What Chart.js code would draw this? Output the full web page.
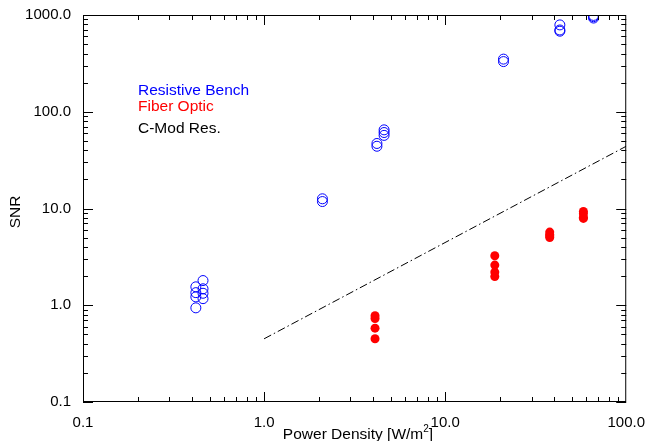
<!DOCTYPE html>
<html>
<head>
<meta charset="utf-8">
<script src="https://cdn.jsdelivr.net/npm/chart.js@4/dist/chart.umd.min.js"></script>
<style>
  body { margin: 0; background: #fff; }
  #grafico { display: block; }
</style>
</head>
<body>
<canvas id="grafico" width="649" height="441"></canvas>
<script>
// dados
const benchX = [0.42, 0.42, 0.42, 0.42, 0.46, 0.46, 0.46, 0.46, 2.1, 2.1, 4.2, 4.2, 4.6, 4.6, 4.6, 21, 21, 43, 43, 43, 66, 66, 66];
const benchY = [1.55, 1.35, 1.22, 0.94, 1.8, 1.48, 1.33, 1.17, 12.6, 11.8, 47, 44, 65, 61, 57, 350, 330, 790, 700, 680, 990, 960, 930];

const fiberX = [4.1, 4.1, 4.1, 4.1, 18.8, 18.8, 18.8, 18.8, 37.8, 37.8, 37.8, 37.8, 58, 58, 58, 58];
const fiberY = [0.78, 0.73, 0.58, 0.45, 3.25, 2.6, 2.2, 1.98, 5.7, 5.4, 5.2, 5.0, 9.3, 8.8, 8.1, 7.9];

const cmodX = [1, 100];
const cmodY = [0.45, 44];

const xTickValues = [0.1, 1, 10, 100];
const xTickLabels = ["0.1", "1.0", "10.0", "100.0"];
const yTickValues = [0.1, 1, 10, 100, 1000];
const yTickLabels = ["0.1", "1.0", "10.0", "100.0", "1000.0"];

const legendText = ["Resistive Bench", "Fiber Optic", "C-Mod Res."];
const legendColors = ["#0000ff", "#ff0000", "#000000"];
const legendRows = [91, 107, 129];

const fonte = "Liberation Sans, Arial, sans-serif";

function pares(xs, ys) {
  return xs.map((x, i) => ({ x: x, y: ys[i] }));
}

// moldura, ticks internos, legenda e titulos
const decoracao = {
  id: "decoracao",
  afterDraw(chart) {
    const ctx = chart.ctx;
    const a = chart.chartArea;
    const sx = chart.scales.x;
    const sy = chart.scales.y;
    ctx.save();
    ctx.strokeStyle = "#000";
    ctx.lineWidth = 1;
    ctx.strokeRect(a.left + 0.5, a.top + 0.5, a.right - a.left - 1, a.bottom - a.top - 1);

    ctx.beginPath();
    // ticks eixo x (baixo e cima)
    for (let d = -1; d < 2; d++) {
      for (let m = 1; m < 10; m++) {
        const v = m * Math.pow(10, d);
        const px = Math.round(sx.getPixelForValue(v)) + 0.5;
        const len = m === 1 ? 10 : 5;
        ctx.moveTo(px, a.bottom);
        ctx.lineTo(px, a.bottom - len);
        ctx.moveTo(px, a.top);
        ctx.lineTo(px, a.top + len);
      }
    }
    // ticks eixo y (esquerda e direita)
    for (let d = -1; d < 3; d++) {
      for (let m = 1; m < 10; m++) {
        const v = m * Math.pow(10, d);
        const py = Math.round(sy.getPixelForValue(v)) + 0.5;
        const len = m === 1 ? 10 : 5;
        ctx.moveTo(a.left, py);
        ctx.lineTo(a.left + len, py);
        ctx.moveTo(a.right, py);
        ctx.lineTo(a.right - len, py);
      }
    }
    ctx.stroke();

    // legenda so com texto
    ctx.font = "15.5px " + fonte;
    ctx.textAlign = "left";
    ctx.textBaseline = "middle";
    legendText.forEach((t, i) => {
      ctx.fillStyle = legendColors[i];
      ctx.fillText(t, 138, legendRows[i]);
    });

    // titulo x com expoente pequeno
    ctx.fillStyle = "#000";
    const t1 = "Power Density [W/m";
    const w1 = ctx.measureText(t1).width;
    ctx.font = "10px " + fonte;
    const w2 = ctx.measureText("2").width;
    ctx.font = "15.5px " + fonte;
    const w3 = ctx.measureText("]").width;
    let x0 = 358 - (w1 + w2 + w3) / 2;
    ctx.fillText(t1, x0, 435);
    ctx.font = "10px " + fonte;
    ctx.fillText("2", x0 + w1, 429);
    ctx.font = "15.5px " + fonte;
    ctx.fillText("]", x0 + w1 + w2, 435);

    // titulo y
    ctx.textAlign = "center";
    ctx.translate(16, 212);
    ctx.rotate(-Math.PI / 2);
    ctx.fillText("SNR", 0, 0);
    ctx.restore();
  },
};

const data1 = {
  datasets: [
    {
      label: "Resistive Bench",
      data: pares(benchX, benchY),
      showLine: false,
      pointStyle: "circle",
      pointRadius: 5,
      pointBorderWidth: 1,
      borderColor: "#0000ff",
      backgroundColor: "rgba(0,0,0,0)",
    },
    {
      label: "Fiber Optic",
      data: pares(fiberX, fiberY),
      showLine: false,
      pointRadius: 4.5,
      pointBorderWidth: 0,
      borderColor: "#ff0000",
      backgroundColor: "#ff0000",
    },
    {
      label: "C-Mod Res.",
      data: pares(cmodX, cmodY),
      showLine: true,
      pointRadius: 0,
      borderColor: "#000",
      borderWidth: 1,
      borderDash: [8, 3, 1.5, 3],
    },
  ],
};

const options1 = {
  responsive: false,
  animation: false,
  layout: { padding: { top: 15, right: 20, left: 0, bottom: 0 } },
  plugins: { legend: { display: false }, tooltip: { enabled: false } },
  scales: {
    x: {
      type: "logarithmic",
      min: 0.1,
      max: 100,
      grid: { display: false },
      border: { display: false },
      afterBuildTicks: (s) => { s.ticks = xTickValues.map((v) => ({ value: v })); },
      afterFit: (s) => { s.height = 39; },
      ticks: {
        autoSkip: false,
        maxRotation: 0,
        padding: 4,
        color: "#000",
        font: { family: fonte, size: 15 },
        callback: (v, i) => xTickLabels[i],
      },
    },
    y: {
      type: "logarithmic",
      min: 0.1,
      max: 1000,
      grid: { display: false },
      border: { display: false },
      afterBuildTicks: (s) => { s.ticks = yTickValues.map((v) => ({ value: v })); },
      afterFit: (s) => { s.width = 83; },
      ticks: {
        autoSkip: false,
        padding: 4,
        color: "#000",
        font: { family: fonte, size: 15 },
        callback: (v, i) => yTickLabels[i],
      },
    },
  },
};

const ctx1 = document.getElementById("grafico").getContext("2d");
const myChart1 = new Chart(ctx1, {
  type: "scatter",
  data: data1,
  options: options1,
  plugins: [decoracao],
});
</script>
</body>
</html>
